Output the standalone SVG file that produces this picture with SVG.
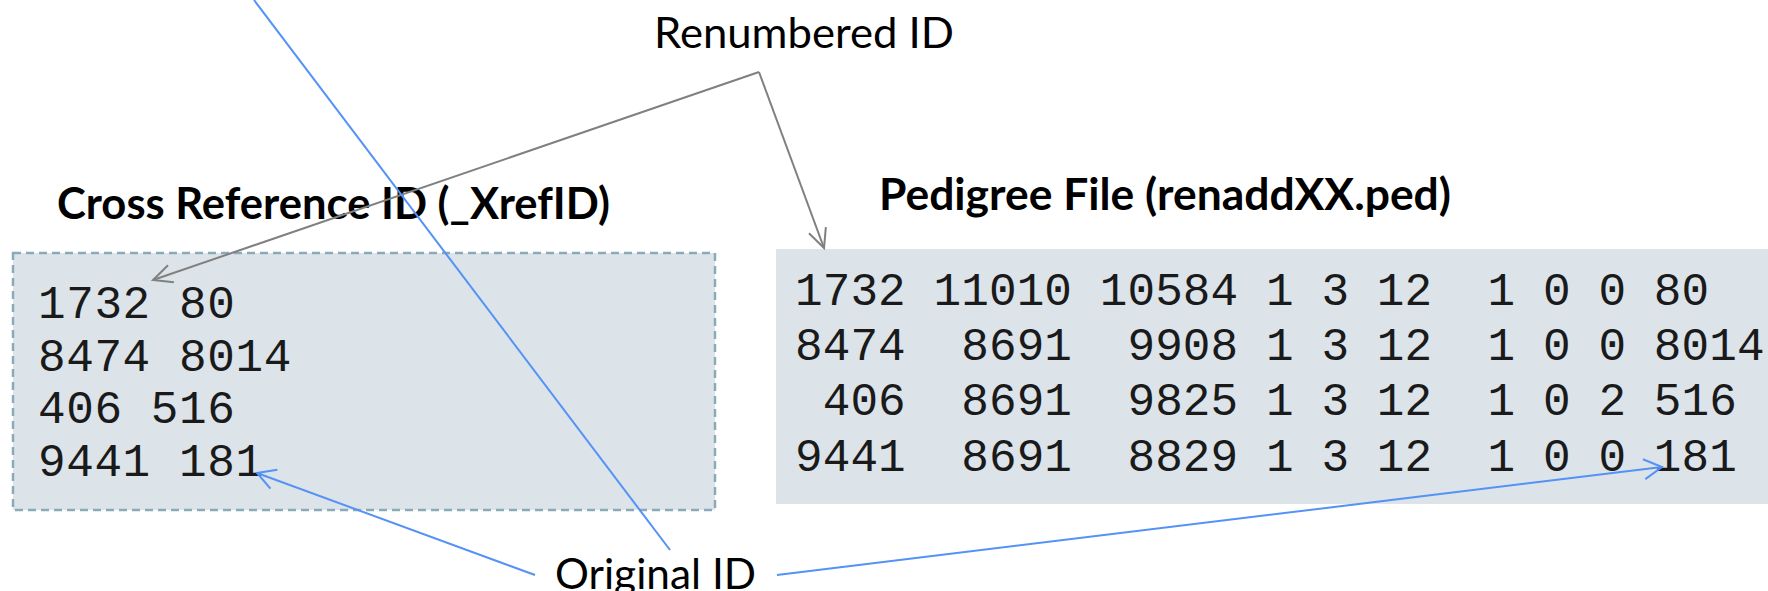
<svg xmlns="http://www.w3.org/2000/svg" width="1768" height="591" viewBox="0 0 1768 591">
  <style>
    .label { font-family: Lato, "Noto Sans", "Liberation Sans", sans-serif; font-size: 43px; fill: #000; }
    .title { font-family: Lato, "Noto Sans", "Liberation Sans", sans-serif; font-size: 43px; font-weight: bold; fill: #000; }
    .mono { font-family: "Liberation Mono", "DejaVu Sans Mono", monospace; font-size: 46px; fill: #1a1a1a; white-space: pre; }
    .panel { fill: #dce4ea; }
    .dashed { stroke: #8aaab7; stroke-width: 2.5; stroke-dasharray: 8 5; }
    .gray { stroke: #808080; stroke-width: 2; fill: none; }
    .blue { stroke: #5492f5; stroke-width: 2; fill: none; }
  </style>
  <defs>
    <marker id="arrGray" viewBox="-22 -12 24 24" markerWidth="24" markerHeight="24" refX="0" refY="0" orient="auto" markerUnits="userSpaceOnUse">
      <path d="M-19,-9 L0,0 L-19,9" fill="none" stroke="#808080" stroke-width="2"/>
    </marker>
    <marker id="arrBlue" viewBox="-22 -12 24 24" markerWidth="24" markerHeight="24" refX="0" refY="0" orient="auto" markerUnits="userSpaceOnUse">
      <path d="M-18,-10 L0,0 L-18,10" fill="none" stroke="#5492f5" stroke-width="2"/>
    </marker>
  </defs>

  <g id="xref">
    <rect class="panel dashed" x="13" y="253" width="702" height="257"/>
    <text class="title" x="57" y="219" textLength="553" lengthAdjust="spacingAndGlyphs">Cross Reference ID (_XrefID)</text>
    <text class="mono" xml:space="preserve" x="38" y="318" letter-spacing="0.6">1732 80</text>
    <text class="mono" xml:space="preserve" x="38" y="371" letter-spacing="0.6">8474 8014</text>
    <text class="mono" xml:space="preserve" x="38" y="423" letter-spacing="0.6">406 516</text>
    <text class="mono" xml:space="preserve" x="38" y="476" letter-spacing="0.6">9441 181</text>
  </g>

  <g id="pedigree">
    <rect class="panel" x="776" y="249" width="992" height="255"/>
    <text class="title" x="879" y="210" textLength="572" lengthAdjust="spacingAndGlyphs">Pedigree File (renaddXX.ped)</text>
    <text class="mono" xml:space="preserve" x="795" y="305" letter-spacing="0.1">1732 11010 10584 1 3 12  1 0 0 80</text>
    <text class="mono" xml:space="preserve" x="795" y="360" letter-spacing="0.1">8474  8691  9908 1 3 12  1 0 0 8014</text>
    <text class="mono" xml:space="preserve" x="795" y="415" letter-spacing="0.1"> 406  8691  9825 1 3 12  1 0 2 516</text>
    <text class="mono" xml:space="preserve" x="795" y="471" letter-spacing="0.1">9441  8691  8829 1 3 12  1 0 0 181</text>
  </g>

  <g id="renumbered-label">
    <text class="label" x="654" y="48" textLength="300" lengthAdjust="spacingAndGlyphs">Renumbered ID</text>
  </g>

  <g id="original-label">
    <text class="label" x="555" y="589" textLength="201" lengthAdjust="spacingAndGlyphs">Original ID</text>
  </g>

  <g id="connectors">
    <line class="gray" x1="759" y1="72" x2="153" y2="280" marker-end="url(#arrGray)"/>
    <line class="gray" x1="759" y1="72" x2="824" y2="248" marker-end="url(#arrGray)"/>
    <line class="blue" x1="254" y1="0" x2="670" y2="550"/>
    <line class="blue" x1="535" y1="575" x2="257" y2="473" marker-end="url(#arrBlue)"/>
    <line class="blue" x1="777" y1="575" x2="1662" y2="467" marker-end="url(#arrBlue)"/>
  </g>
</svg>
